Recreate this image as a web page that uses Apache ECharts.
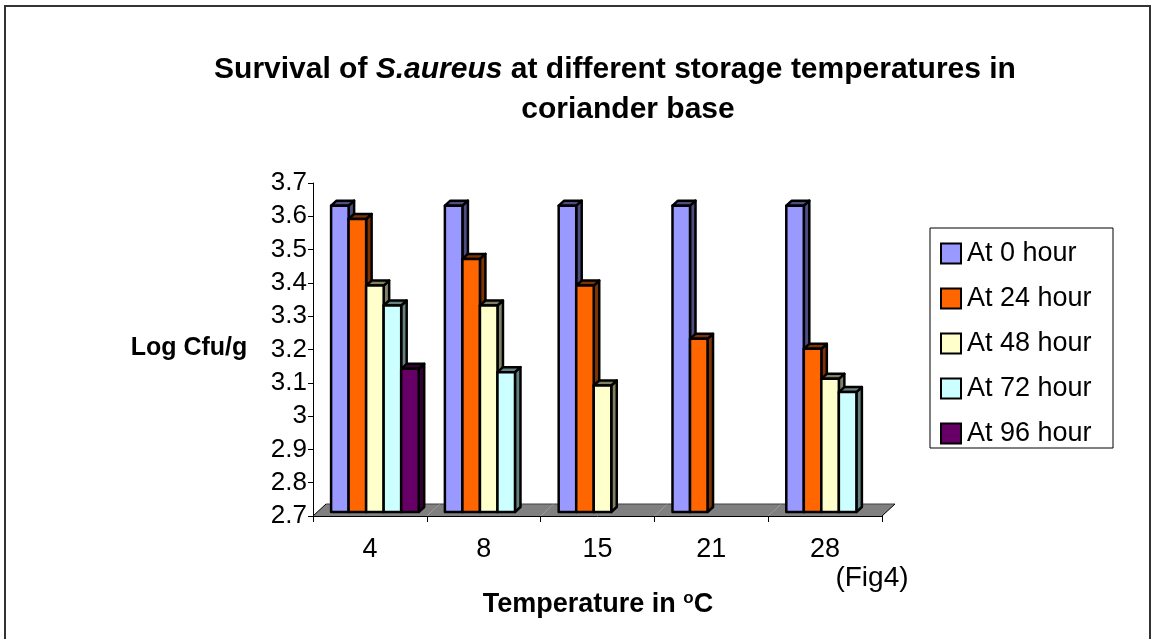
<!DOCTYPE html>
<html>
<head>
<meta charset="utf-8">
<script src="https://cdn.jsdelivr.net/npm/echarts@6/dist/echarts.min.js"></script>
<style>html,body{margin:0;padding:0;background:#fff}#c{width:1152px;height:639px}</style>
</head>
<body>
<div id="c"></div>
<script>
// ---- data ----
const categories = ['4', '8', '15', '21', '28'];
const seriesNames = ['At 0 hour', 'At 24 hour', 'At 48 hour', 'At 72 hour', 'At 96 hour'];
const hour0  = [3.62, 3.62, 3.62, 3.62, 3.62];
const hour24 = [3.58, 3.46, 3.38, 3.22, 3.19];
const hour48 = [3.38, 3.32, 3.08, null, 3.10];
const hour72 = [3.32, 3.12, null, null, 3.06];
const hour96 = [3.13, null, null, null, null];
const yTicks = { min: 2.7, max: 3.7, step: 0.1 };

const allSeries = [hour0, hour24, hour48, hour72, hour96];
const frontColors = ['#9999FF', '#FF6600', '#FFFFCC', '#CCFFFF', '#660066'];
const sideColors  = ['#4D4D80', '#803300', '#808066', '#668080', '#330033'];

const FONT = "'Liberation Sans', Arial, sans-serif";
const DX = 5, DY = -4;       // mid-depth shift of bars
const DEPTH_X = 5.5, DEPTH_Y = -5; // bar depth
const FLOOR_X = 13, FLOOR_Y = -12;

function barRenderer(si) {
  return function (params, api) {
    const ci = api.value(0);
    const v = api.value(1);
    const base = api.coord([ci, yTicks.min]);
    const top = api.coord([ci, v]);
    const bandW = api.size([1, 0])[0];
    const barW = bandW * 0.154;
    const x0 = base[0] - 2.5 * barW + DX + si * barW;
    const x1 = x0 + barW;
    const yb = base[1] + DY;
    const yt = top[1] + DY;
    const st = { stroke: '#000', lineWidth: 2.5, lineJoin: 'round' };
    return {
      type: 'group',
      children: [
        { type: 'polygon', shape: { points: [[x1, yt], [x1 + DEPTH_X, yt + DEPTH_Y], [x1 + DEPTH_X, yb + DEPTH_Y], [x1, yb]] },
          style: Object.assign({ fill: sideColors[si] }, st) },
        { type: 'polygon', shape: { points: [[x0, yt], [x0 + DEPTH_X, yt + DEPTH_Y], [x1 + DEPTH_X, yt + DEPTH_Y], [x1, yt]] },
          style: Object.assign({ fill: sideColors[si] }, st) },
        { type: 'rect', shape: { x: x0, y: yt, width: barW, height: yb - yt },
          style: Object.assign({ fill: frontColors[si] }, st) }
      ]
    };
  };
}

function floorRenderer(params, api) {
  const ci = api.value(0);
  const c = api.coord([ci, yTicks.min]);
  const bandW = api.size([1, 0])[0];
  const xa = c[0] - bandW / 2, xb = c[0] + bandW / 2, y = c[1];
  const children = [
    { type: 'polygon', shape: { points: [[xa, y], [xa + FLOOR_X, y + FLOOR_Y], [xb + FLOOR_X, y + FLOOR_Y], [xb, y]] },
      style: { fill: '#808080', stroke: null } },
    { type: 'line', shape: { x1: xa + FLOOR_X, y1: y + FLOOR_Y, x2: xb + FLOOR_X, y2: y + FLOOR_Y }, style: { stroke: '#404040', lineWidth: 1 } }
  ];
  if (ci === 0) children.push({ type: 'line', shape: { x1: xa, y1: y, x2: xa + FLOOR_X, y2: y + FLOOR_Y }, style: { stroke: '#000', lineWidth: 1 } });
  if (ci === categories.length - 1) children.push({ type: 'line', shape: { x1: xb, y1: y, x2: xb + FLOOR_X, y2: y + FLOOR_Y }, style: { stroke: '#000', lineWidth: 1 } });
  return { type: 'group', children };
}

const series = [{
  type: 'custom', name: 'floor', renderItem: floorRenderer, silent: true, z: 1,
  data: categories.map((c, i) => [i]), encode: { x: 0 }
}];
allSeries.forEach((arr, si) => {
  series.push({
    type: 'custom', name: seriesNames[si], renderItem: barRenderer(si), z: 2 + si,
    itemStyle: { color: frontColors[si], borderColor: '#000', borderWidth: 2 },
    encode: { x: 0, y: 1 },
    data: arr.map((v, i) => v == null ? null : [i, v]).filter(d => d)
  });
});

const chart = echarts.init(document.getElementById('c'), null, { renderer: 'canvas' });
chart.setOption({
  backgroundColor: '#fff',
  animation: false,
  grid: { left: 313, right: 270, top: 183, bottom: 123 },
  xAxis: {
    type: 'category', data: categories, boundaryGap: true,
    axisLine: { show: true, lineStyle: { color: '#000', width: 1 } },
    axisTick: { show: true, inside: false, length: 6, interval: 0, lineStyle: { color: '#000' } },
    axisLabel: { fontFamily: FONT, fontSize: 27, color: '#000', margin: 20 },
    z: 10
  },
  yAxis: {
    type: 'value', min: yTicks.min, max: yTicks.max, interval: yTicks.step,
    axisLine: { show: true, lineStyle: { color: '#000', width: 1 } },
    axisTick: { show: true, inside: false, length: 5, lineStyle: { color: '#000' } },
    splitLine: { show: false },
    axisLabel: { fontFamily: FONT, fontSize: 26, color: '#000', margin: 6,
      formatter: v => String(+v.toFixed(1)) }
  },
  legend: {
    orient: 'vertical', left: 940, top: 240, itemWidth: 20, itemHeight: 20, itemGap: 18,
    icon: 'rect', padding: 0,
    data: seriesNames,
    itemStyle: { borderColor: '#000', borderWidth: 2 },
    textStyle: { fontFamily: FONT, fontSize: 27, color: '#000', padding: [0, 0, 0, 1] }
  },
  graphic: [
    { type: 'rect', shape: { x: 5, y: 6, width: 1145, height: 660 }, style: { fill: null, stroke: '#333', lineWidth: 2 }, silent: true },
    { type: 'rect', shape: { x: 930, y: 228, width: 183, height: 220 }, style: { fill: null, stroke: '#000', lineWidth: 1 }, silent: true },
    { type: 'text', x: 615, y: 70, style: {
        text: '{b|Survival of }{bi|S.aureus}{b| at different storage temperatures in}',
        align: 'center', verticalAlign: 'middle',
        rich: { b: { fontFamily: FONT, fontWeight: 'bold', fontSize: 30, fill: '#000' },
                bi: { fontFamily: FONT, fontWeight: 'bold', fontStyle: 'italic', fontSize: 30, fill: '#000' } } } },
    { type: 'text', x: 628, y: 110, style: { text: 'coriander base', align: 'center', verticalAlign: 'middle',
        fontFamily: FONT, fontWeight: 'bold', fontSize: 30, fill: '#000' } },
    { type: 'text', x: 189, y: 348, style: { text: 'Log Cfu/g', align: 'center', verticalAlign: 'middle',
        fontFamily: FONT, fontWeight: 'bold', fontSize: 25, fill: '#000' } },
    { type: 'text', x: 598, y: 605, style: {
        text: '{b|Temperature in }{s|o}{b|C}', align: 'center', verticalAlign: 'middle',
        rich: { b: { fontFamily: FONT, fontWeight: 'bold', fontSize: 27, fill: '#000' },
                s: { fontFamily: FONT, fontWeight: 'bold', fontSize: 17, fill: '#000', verticalAlign: 'top', padding: [0, 0, 14, 0] } } } },
    { type: 'text', x: 872, y: 578, style: { text: '(Fig4)', align: 'center', verticalAlign: 'middle',
        fontFamily: FONT, fontSize: 28, fill: '#000' } }
  ],
  series
});
</script>
</body>
</html>
